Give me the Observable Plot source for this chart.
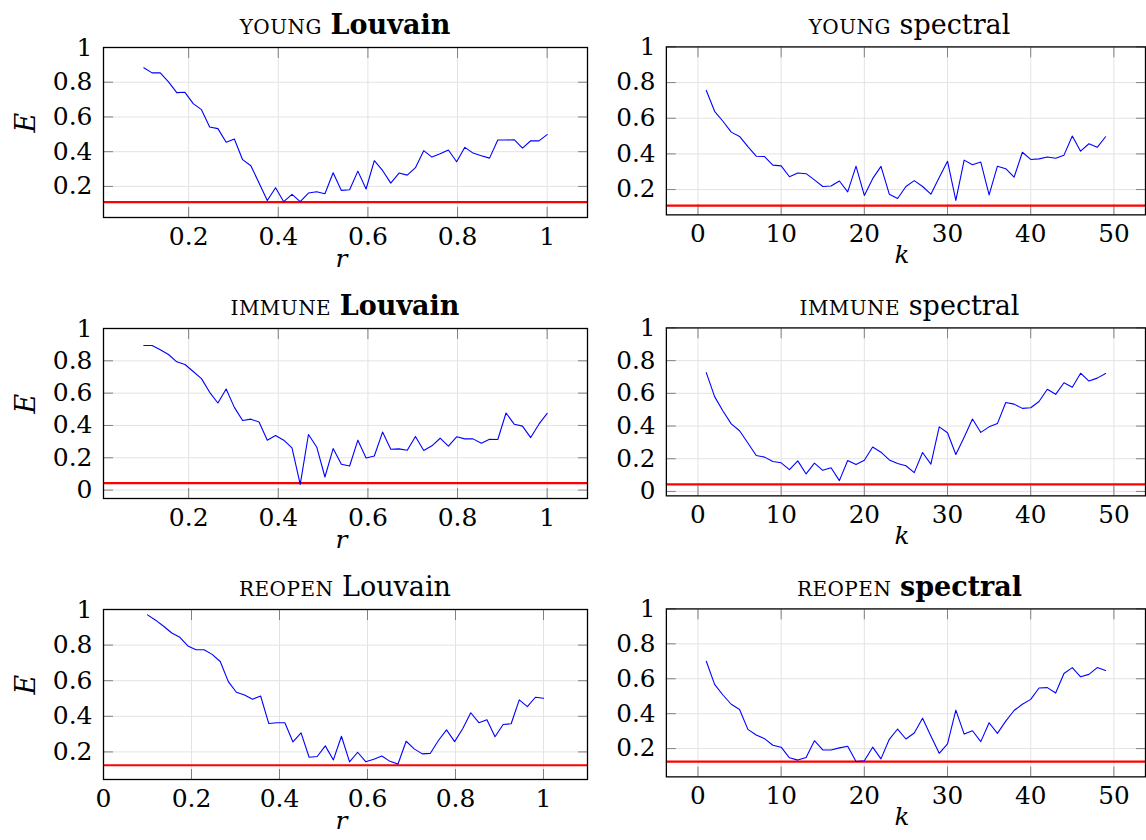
<!DOCTYPE html>
<html>
<head>
<meta charset="utf-8">
<script src="https://cdn.jsdelivr.net/npm/d3@7"></script>
<script src="https://cdn.jsdelivr.net/npm/@observablehq/plot@0.6"></script>
<style>
  html, body { margin: 0; padding: 0; background: #fff; }
  #wrap { position: relative; width: 1146px; height: 840px; overflow: hidden; background: #fff; font-family: "DejaVu Serif", serif; }
  .panel { position: absolute; }
  .panel svg, .panel svg text { font-family: "DejaVu Serif", "Liberation Serif", serif !important; }
  .title { position: absolute; text-align: center; font-size: 27px; line-height: 28px; color: #000; white-space: nowrap; font-family: "DejaVu Serif", serif; }
  .sc { text-transform: uppercase; font-size: 0.74em; letter-spacing: 0.5px; }
</style>
</head>
<body>
<div id="wrap"></div>
<script>
// ---- data ----
const rValues = [0.1000,0.1184,0.1367,0.1551,0.1735,0.1918,0.2102,0.2286,0.2469,0.2653,
  0.2837,0.3020,0.3204,0.3388,0.3571,0.3755,0.3939,0.4122,0.4306,0.4490,
  0.4673,0.4857,0.5041,0.5224,0.5408,0.5592,0.5776,0.5959,0.6143,0.6327,
  0.6510,0.6694,0.6878,0.7061,0.7245,0.7429,0.7612,0.7796,0.7980,0.8163,
  0.8347,0.8531,0.8714,0.8898,0.9082,0.9265,0.9449,0.9633,0.9816,1.0000];
const kValues = [1,2,3,4,5,6,7,8,9,10,11,12,13,14,15,16,17,18,19,20,21,22,23,24,25,
  26,27,28,29,30,31,32,33,34,35,36,37,38,39,40,41,42,43,44,45,46,47,48,49];

const youngLouvain = [0.883,0.854,0.854,0.802,0.740,0.742,0.677,0.642,0.542,0.533,
  0.454,0.473,0.354,0.319,0.220,0.119,0.192,0.112,0.154,0.112,
  0.162,0.169,0.158,0.279,0.177,0.181,0.288,0.185,0.348,0.292,
  0.219,0.277,0.265,0.308,0.406,0.369,0.388,0.410,0.342,0.425,
  0.392,0.377,0.363,0.467,0.467,0.469,0.421,0.463,0.462,0.498];
const youngSpectral = [0.756,0.639,0.583,0.522,0.498,0.441,0.387,0.385,0.337,0.333,
  0.272,0.293,0.289,0.254,0.217,0.220,0.248,0.187,0.331,0.167,
  0.261,0.330,0.174,0.150,0.217,0.250,0.217,0.174,0.267,0.359,
  0.139,0.365,0.339,0.354,0.170,0.331,0.317,0.269,0.409,0.369,
  0.372,0.383,0.376,0.393,0.500,0.415,0.457,0.437,0.496];
const immuneLouvain = [0.895,0.895,0.868,0.839,0.794,0.777,0.734,0.690,0.605,0.539,
  0.626,0.512,0.431,0.439,0.421,0.309,0.338,0.309,0.261,0.035,
  0.344,0.267,0.081,0.257,0.160,0.149,0.309,0.199,0.211,0.359,
  0.253,0.255,0.247,0.332,0.245,0.274,0.321,0.272,0.330,0.317,
  0.317,0.290,0.315,0.313,0.477,0.408,0.396,0.325,0.408,0.475];
const immuneSpectral = [0.727,0.580,0.492,0.413,0.371,0.296,0.220,0.210,0.183,0.175,
  0.133,0.187,0.107,0.173,0.129,0.145,0.066,0.189,0.165,0.191,
  0.272,0.240,0.193,0.171,0.157,0.115,0.238,0.167,0.395,0.359,
  0.226,0.332,0.443,0.361,0.395,0.415,0.544,0.534,0.508,0.512,
  0.550,0.625,0.594,0.665,0.637,0.723,0.675,0.693,0.721];
const reopenLouvain = [0.970,0.940,0.906,0.868,0.844,0.795,0.774,0.774,0.748,0.708,
  0.595,0.535,0.520,0.496,0.514,0.360,0.364,0.364,0.256,0.307,
  0.170,0.174,0.234,0.155,0.288,0.144,0.198,0.145,0.159,0.177,
  0.147,0.132,0.260,0.217,0.189,0.192,0.264,0.324,0.258,0.330,
  0.420,0.364,0.381,0.285,0.354,0.358,0.492,0.454,0.507,0.501];
const reopenSpectral = [0.700,0.568,0.507,0.454,0.424,0.310,0.278,0.257,0.219,0.208,
  0.147,0.134,0.149,0.245,0.192,0.192,0.204,0.213,0.126,0.130,
  0.208,0.141,0.253,0.312,0.255,0.289,0.374,0.272,0.173,0.227,
  0.420,0.283,0.302,0.240,0.348,0.287,0.357,0.418,0.454,0.482,
  0.547,0.549,0.518,0.630,0.664,0.611,0.625,0.664,0.647];

const baseYoung = 0.11;
const baseImmune = 0.043;
const baseReopen = 0.125;

const rTicks = [0.2, 0.4, 0.6, 0.8, 1];
const rTicksZero = [0, 0.2, 0.4, 0.6, 0.8, 1];
const kTicks = [0, 10, 20, 30, 40, 50];
const eTicks = [0.2, 0.4, 0.6, 0.8, 1];
const eTicksZero = [0, 0.2, 0.4, 0.6, 0.8, 1];

const datasetNames = ["young", "immune", "reopen"];
const methodNames = ["Louvain", "spectral"];

// ---- drawing ----
const wrap = document.getElementById("wrap");
const ROW_H = 281;
const FONT = '"DejaVu Serif", "Liberation Serif", serif';

function makePanel(cfg) {
  const data = cfg.xs.map((x, i) => ({x, y: cfg.values[i]}));
  const tickStroke = "#808080";
  const gridStroke = "#e3e3e3";
  const blank = () => "";
  const marks = [
    Plot.gridX(cfg.xTicks, {stroke: gridStroke, strokeOpacity: 1}),
    Plot.gridY(cfg.yTicks, {stroke: gridStroke, strokeOpacity: 1}),
    Plot.axisX(cfg.xTicks, {anchor: "bottom", tickSize: -10, tickFormat: blank, stroke: tickStroke, label: null}),
    Plot.axisX(cfg.xTicks, {anchor: "top", tickSize: -10, tickFormat: blank, stroke: tickStroke, label: null}),
    Plot.axisY(cfg.yTicks, {anchor: "left", tickSize: -10, tickFormat: blank, stroke: tickStroke, label: null}),
    Plot.axisY(cfg.yTicks, {anchor: "right", tickSize: -10, tickFormat: blank, stroke: tickStroke, label: null}),
    Plot.axisX(cfg.xTicks, {anchor: "bottom", tickSize: 0, tickPadding: 10, tickFormat: d => String(d), fontSize: 25, fontFamily: FONT, label: null, fill: "#000"}),
    Plot.axisY(cfg.yTicks, {anchor: "left", tickSize: 0, tickPadding: 11, tickFormat: d => String(d), fontSize: 25, fontFamily: FONT, label: null, fill: "#000"}),
    Plot.ruleY([cfg.base], {stroke: "#ff0000", strokeWidth: 2.2}),
    Plot.line(data, {x: "x", y: "y", stroke: "#0000ff", strokeWidth: 1.1}),
    Plot.frame({stroke: "#000", strokeWidth: 1.3}),
    Plot.text([cfg.xLabel], {frameAnchor: "bottom", dy: 49, dx: -4, fontStyle: "italic", fontSize: 25, fontFamily: FONT, fill: "#000"})
  ];
  if (cfg.yLabel) {
    marks.push(Plot.text([cfg.yLabel], {frameAnchor: "left", dx: -77, rotate: -90, fontStyle: "italic", fontSize: 27, fontFamily: FONT, fill: "#000"}));
  }
  const svg = Plot.plot({
    width: cfg.width,
    height: ROW_H,
    marginTop: 47,
    marginBottom: ROW_H - 47 - 170,
    marginLeft: cfg.marginLeft,
    marginRight: cfg.marginRight,
    style: {fontFamily: FONT, fontSize: "25px", overflow: "visible", background: "transparent", color: "#000"},
    x: {domain: cfg.xDomain},
    y: {domain: cfg.yDomain},
    marks
  });
  svg.setAttribute("font-family", FONT);
  const holder = document.createElement("div");
  holder.className = "panel";
  holder.style.left = cfg.left + "px";
  holder.style.top = cfg.top + "px";
  holder.appendChild(svg);
  wrap.appendChild(holder);

  // title
  const t = document.createElement("div");
  t.className = "title";
  const frameLeft = cfg.left + cfg.marginLeft;
  const frameRight = cfg.left + cfg.width - cfg.marginRight;
  t.style.left = frameLeft + "px";
  t.style.width = (frameRight - frameLeft) + "px";
  t.style.top = (cfg.top + 11) + "px";
  const sc = document.createElement("span");
  sc.className = "sc";
  sc.textContent = cfg.dataset;
  t.appendChild(sc);
  t.appendChild(document.createTextNode(" "));
  const m = document.createElement("span");
  m.textContent = cfg.method;
  if (cfg.bold) m.style.fontWeight = "bold";
  t.appendChild(m);
  wrap.appendChild(t);
}

const louvainSeries = [youngLouvain, immuneLouvain, reopenLouvain];
const spectralSeries = [youngSpectral, immuneSpectral, reopenSpectral];
const bases = [baseYoung, baseImmune, baseReopen];
const louvainYDomains = [[0.021, 1], [-0.052, 1], [0.045, 1]];
const spectralYDomains = [[0.058, 1], [-0.027, 1], [0.038, 1]];
const louvainXDomains = [[0.01, 1.09], [0.01, 1.09], [0, 1.1]];
const louvainXTicks = [rTicks, rTicks, rTicksZero];
const yTickSets = [eTicks, eTicksZero, eTicks];
const louvainBold = [true, true, false];
const spectralBold = [false, false, true];

for (let row = 0; row < 3; row++) {
  makePanel({
    values: louvainSeries[row], xs: rValues,
    xDomain: louvainXDomains[row], yDomain: louvainYDomains[row],
    xTicks: louvainXTicks[row], yTicks: yTickSets[row],
    base: bases[row], left: 0, top: row * ROW_H,
    width: 590, marginLeft: 103, marginRight: 3,
    xLabel: "r", yLabel: "E",
    dataset: datasetNames[row], method: methodNames[0], bold: louvainBold[row]
  });
  makePanel({
    values: spectralSeries[row], xs: kValues,
    xDomain: [-3.8, 53.8], yDomain: spectralYDomains[row],
    xTicks: kTicks, yTicks: yTickSets[row],
    base: bases[row], left: 573, top: row * ROW_H,
    width: 580, marginLeft: 94, marginRight: 1,
    xLabel: "k", yLabel: null,
    dataset: datasetNames[row], method: methodNames[1], bold: spectralBold[row]
  });
}
</script>
</body>
</html>
